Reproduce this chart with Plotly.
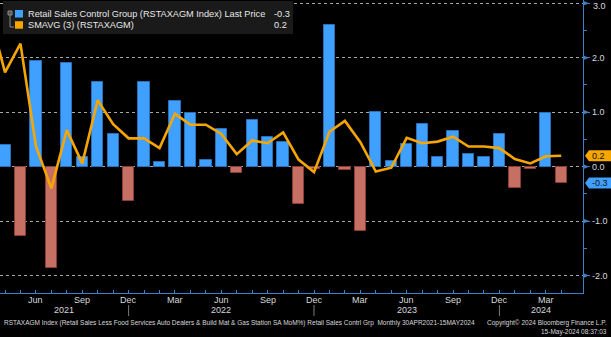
import plotly.graph_objects as go

# Monthly retail sales control group, % MoM (Apr 2021 - Apr 2024)
months = [
    "2021-04", "2021-05", "2021-06", "2021-07", "2021-08", "2021-09", "2021-10", "2021-11", "2021-12",
    "2022-01", "2022-02", "2022-03", "2022-04", "2022-05", "2022-06", "2022-07", "2022-08", "2022-09",
    "2022-10", "2022-11", "2022-12", "2023-01", "2023-02", "2023-03", "2023-04", "2023-05", "2023-06",
    "2023-07", "2023-08", "2023-09", "2023-10", "2023-11", "2023-12", "2024-01", "2024-02", "2024-03",
    "2024-04",
]
control_group = [
    0.40, -1.27, 1.94, -1.86, 1.90, 0.18, 1.55, 0.60, -0.63,
    1.56, 0.09, 1.20, 0.98, 0.12, 0.69, -0.12, 0.85, 0.55,
    0.45, -0.68, -0.05, 2.61, -0.06, -1.19, 1.00, 0.11, 0.42,
    0.78, 0.18, 0.65, 0.23, 0.18, 0.60, -0.39, -0.04, 0.98,
    -0.3,
]

# 3-month simple moving average (Mar 2021 - Apr 2024)
sma_months = ["2021-03"] + months
sma3 = [
    2.81, 1.73, 2.26, 0.38, -0.40, 0.67, 0.06, 1.22, 0.78, 0.52,
    0.52, 0.34, 0.97, 0.77, 0.77, 0.60, 0.23, 0.48, 0.43,
    0.63, 0.13, -0.10, 0.64, 0.84, 0.45, -0.09, -0.02, 0.53,
    0.43, 0.46, 0.55, 0.37, 0.37, 0.34, 0.14, 0.06, 0.19,
    0.2,
]

y_ticks = [-2, -1, 0, 1, 2, 3]
y_ticktext = ["-2.0", "-1.0", "0.0", "1.0", "2.0", "3.0"]
tick_months = {"06": "Jun", "09": "Sep", "12": "Dec", "03": "Mar"}
years = ["2021", "2022", "2023", "2024"]

last_price = control_group[-1]
last_sma = sma3[-1]

BG = "#000000"
BLUE = "#40a0ff"
BLUE_EDGE = "#2a70b8"
RED = "#c67064"
RED_EDGE = "#8a3e36"
ORANGE = "#f7a600"
AXIS = "#3d80c8"
GRID = "#a8a8a8"
TXT = "#d8d8d8"
FONT = "Liberation Sans"

W, H = 611, 337
ML, MR, MT, MB = 0, 28, 0, 44
PW, PH = W - ML - MR, H - MT - MB


def month_index(m, base="2021-04"):
    y, mo = int(m[:4]), int(m[5:7])
    by, bm = int(base[:4]), int(base[5:7])
    return (y - by) * 12 + (mo - bm)


def px_x(px):
    return (px - ML) / PW


def px_y(py):
    return (MT + PH - py) / PH


x_bar = [month_index(m) for m in months]
x_sma = [month_index(m) for m in sma_months]

Y0, Y1 = -2.32, 3.06
X0, X1 = -0.324, 37.41
unit_px = PH / (Y1 - Y0)

fig = go.Figure()

fig.add_trace(go.Bar(
    x=x_bar, y=control_group, width=0.73,
    marker=dict(
        color=[BLUE if v >= 0 else RED for v in control_group],
        line=dict(color=[BLUE_EDGE if v >= 0 else RED_EDGE for v in control_group], width=1),
    ),
    showlegend=False,
))
fig.add_trace(go.Scatter(
    x=x_sma, y=sma3, mode="lines",
    line=dict(color=ORANGE, width=2.6),
    showlegend=False,
))

fig.update_xaxes(
    range=[X0, X1], tickvals=x_bar, showticklabels=False,
    ticks="inside", ticklen=3, tickcolor=AXIS, tickwidth=1,
    showline=True, linecolor=AXIS, linewidth=1.2, mirror=False,
    showgrid=False, zeroline=False,
)
# the top label sits at the very edge, so it is placed separately below
axis_ticktext = [t if v != max(y_ticks) else "" for v, t in zip(y_ticks, y_ticktext)]
fig.update_yaxes(
    side="right", range=[Y0, Y1], tickvals=y_ticks, ticktext=axis_ticktext,
    ticks="outside", ticklen=6, tickcolor=AXIS, tickwidth=1,
    minor=dict(tickvals=[-1.5, -0.5, 0.5, 1.5, 2.5], ticks="outside", ticklen=3, tickcolor=AXIS),
    showline=True, linecolor=AXIS, linewidth=1.2,
    showgrid=True, gridcolor=GRID, griddash="dot", gridwidth=1,
    zeroline=False,
    tickfont=dict(family=FONT, size=9, color=TXT),
)

shapes = []
annotations = []

annotations.append(dict(x=px_x(591), y=px_y(6.5), xref="paper", yref="paper", text=y_ticktext[-1],
                        showarrow=False, xanchor="left", yanchor="middle",
                        font=dict(family=FONT, size=9, color=TXT)))

# triangular markers on the right axis at major ticks
tri_h = 2.6 / unit_px
for v in y_ticks:
    shapes.append(dict(
        type="path", xref="paper", yref="y",
        path=f"M {px_x(583)},{v - tri_h} L {px_x(583)},{v + tri_h} L {px_x(589)},{v} Z",
        fillcolor=AXIS, line=dict(width=0),
    ))

# month labels under the axis
for m, xi in zip(months, x_bar):
    lab = tick_months.get(m[5:7])
    if lab:
        annotations.append(dict(x=xi, y=px_y(300), xref="x", yref="paper", text=lab, showarrow=False,
                                font=dict(family=FONT, size=9, color=TXT), xanchor="center", yanchor="middle"))

# year separators and labels
for sep in ["2021-12", "2022-12", "2023-12"]:
    xi = month_index(sep)
    shapes.append(dict(type="line", xref="x", yref="paper", x0=xi, x1=xi,
                       y0=px_y(305), y1=px_y(316), line=dict(color="#7a7a7a", width=1)))
year_x = [3.84, 14.0, 26.0, 34.7]
for yr, xv in zip(years, year_x):
    annotations.append(dict(x=xv, y=px_y(310.5), xref="x", yref="paper", text=yr, showarrow=False,
                            font=dict(family=FONT, size=9, color=TXT), xanchor="center", yanchor="middle"))


# last-value tags on the right axis
def value_tag(val, color, label):
    hh = 5.5 / unit_px
    shapes.append(dict(
        type="path", xref="paper", yref="y",
        path=(f"M {px_x(585)},{val} L {px_x(589)},{val + hh} L {px_x(611)},{val + hh} "
              f"L {px_x(611)},{val - hh} L {px_x(589)},{val - hh} Z"),
        fillcolor=color, line=dict(width=0),
    ))
    annotations.append(dict(x=px_x(590), y=val, xref="paper", yref="y", text=label, showarrow=False,
                            xanchor="left", yanchor="middle",
                            font=dict(family=FONT, size=9, color="#111111")))


value_tag(last_sma, ORANGE, f"{last_sma:.1f}")
value_tag(last_price, BLUE, f"{last_price:.1f}")

# legend panel
shapes.append(dict(type="rect", xref="paper", yref="paper", x0=px_x(3), x1=px_x(293),
                   y0=px_y(34), y1=px_y(1), fillcolor="#1a1a1a", line=dict(width=0), layer="above"))
shapes.append(dict(type="rect", xref="paper", yref="paper", x0=px_x(15), x1=px_x(23),
                   y0=px_y(17.5), y1=px_y(10), fillcolor=BLUE, line=dict(width=0), layer="above"))
shapes.append(dict(type="rect", xref="paper", yref="paper", x0=px_x(15), x1=px_x(23),
                   y0=px_y(28.7), y1=px_y(21.2), fillcolor=ORANGE, line=dict(width=0), layer="above"))
# small bracket glyph
shapes.append(dict(type="rect", xref="paper", yref="paper", x0=px_x(8), x1=px_x(12),
                   y0=px_y(15), y1=px_y(11), fillcolor="#555555", line=dict(color="#8a8a8a", width=1),
                   layer="above"))
shapes.append(dict(type="line", xref="paper", yref="paper", x0=px_x(10), x1=px_x(10),
                   y0=px_y(15), y1=px_y(27), line=dict(color="#8a8a8a", width=1), layer="above"))
shapes.append(dict(type="line", xref="paper", yref="paper", x0=px_x(10), x1=px_x(14),
                   y0=px_y(27), y1=px_y(27), line=dict(color="#8a8a8a", width=1), layer="above"))

legend_rows = [
    ("Retail Sales Control Group (RSTAXAGM Index) Last Price", f"{last_price:.1f}", 14),
    ("SMAVG (3) (RSTAXAGM)", f"{last_sma:.1f}", 25),
]
for name, val, py in legend_rows:
    annotations.append(dict(x=px_x(26), y=px_y(py), xref="paper", yref="paper", text=name, showarrow=False,
                            xanchor="left", yanchor="middle", font=dict(family=FONT, size=9.2, color="#e8e8e8")))
    annotations.append(dict(x=px_x(272), y=px_y(py), xref="paper", yref="paper", text=val, showarrow=False,
                            xanchor="left", yanchor="middle", font=dict(family=FONT, size=9.2, color="#e8e8e8")))

# footer
annotations.append(dict(
    x=px_x(2), y=px_y(322.7), xref="paper", yref="paper", showarrow=False, xanchor="left", yanchor="middle",
    text=("RSTAXAGM Index (Retail Sales Less Food Services Auto Dealers &amp; Build Mat &amp; Gas Station SA MoM%) "
          "Retail Sales Contrl Grp  Monthly 30APR2021-15MAY2024"),
    font=dict(family=FONT, size=6.5, color=TXT),
))
annotations.append(dict(
    x=px_x(609), y=px_y(322.7), xref="paper", yref="paper", showarrow=False, xanchor="right", yanchor="middle",
    text="Copyright© 2024 Bloomberg Finance L.P.", font=dict(family=FONT, size=6.5, color=TXT),
))
annotations.append(dict(
    x=px_x(609), y=px_y(331.7), xref="paper", yref="paper", showarrow=False, xanchor="right", yanchor="middle",
    text="15-May-2024 08:37:03", font=dict(family=FONT, size=6.5, color=TXT),
))

fig.update_layout(
    width=W, height=H,
    margin=dict(l=ML, r=MR, t=MT, b=MB, pad=0),
    paper_bgcolor=BG, plot_bgcolor=BG,
    bargap=0, showlegend=False,
    shapes=shapes, annotations=annotations,
    font=dict(family=FONT, color=TXT),
)

fig.write_html("out.html")
